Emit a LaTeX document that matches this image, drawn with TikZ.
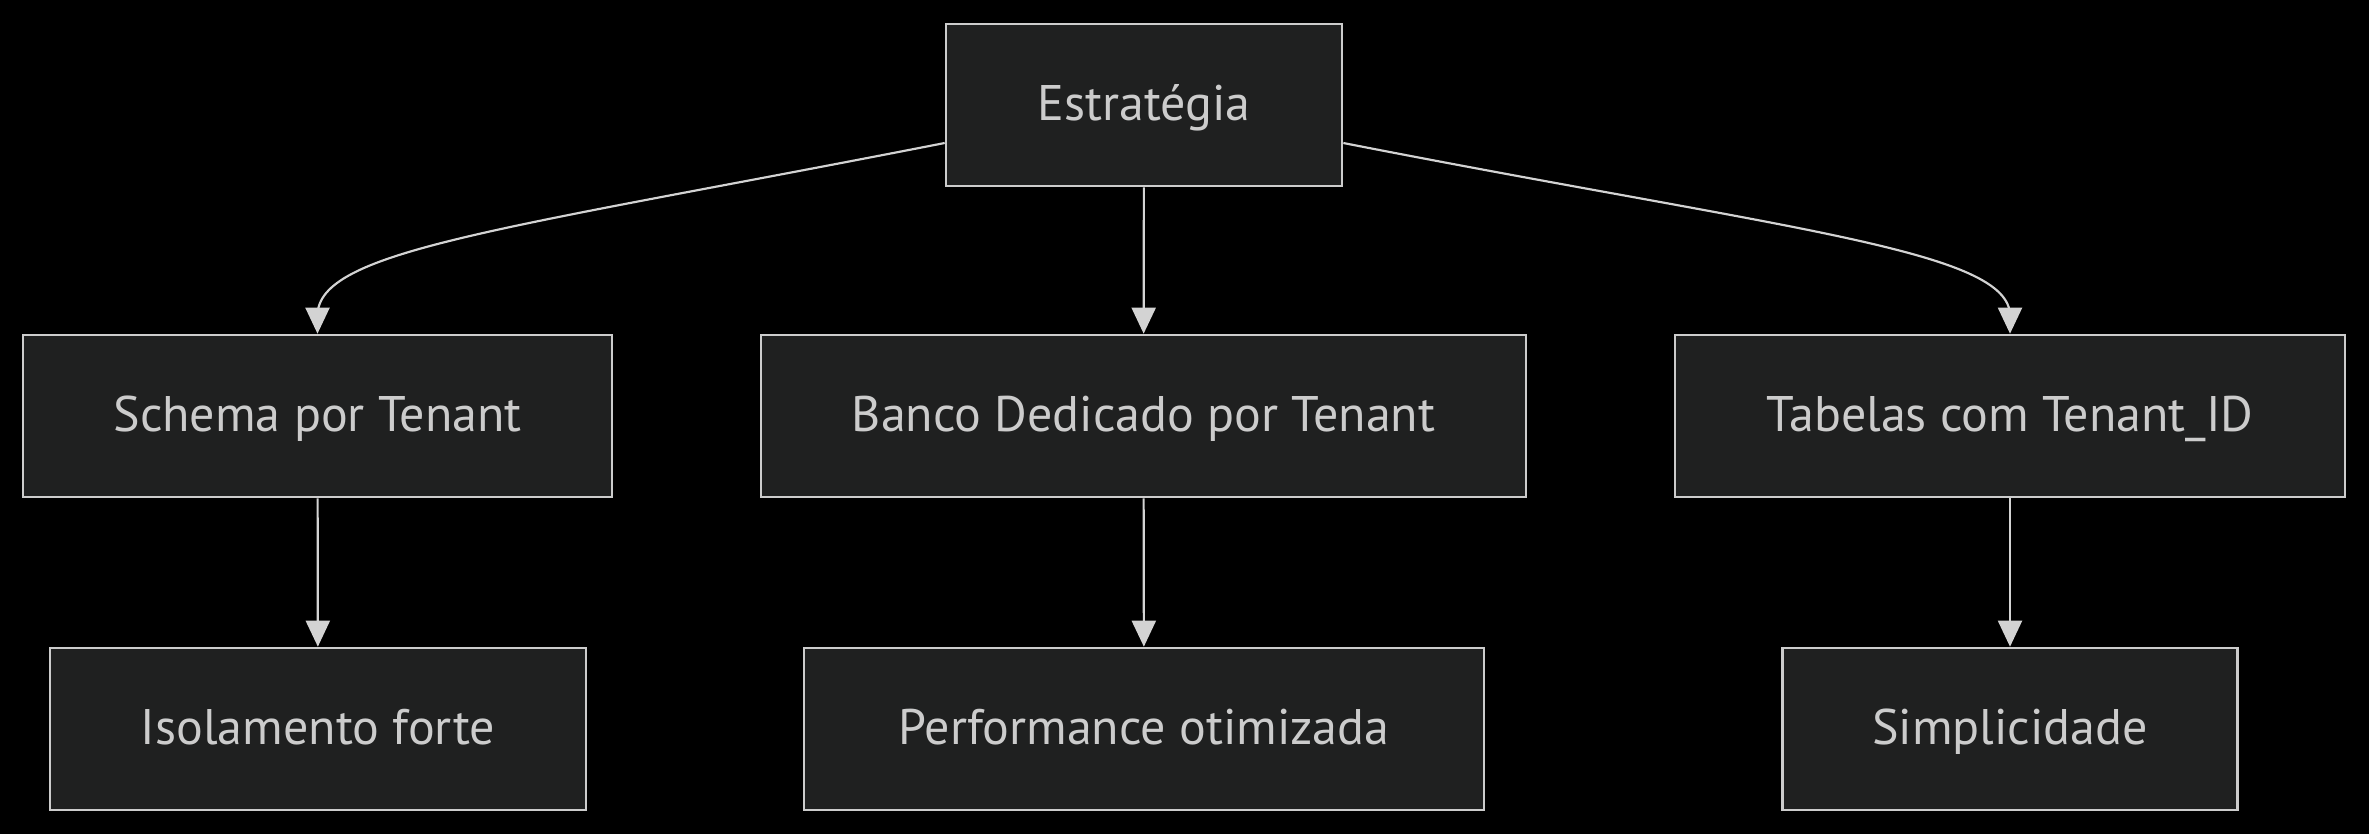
\documentclass[tikz,border=0pt]{standalone}
\usepackage{fontspec}
\setmainfont{PT Sans}
\usetikzlibrary{arrows.meta,calc}
\definecolor{nodefill}{HTML}{1F2020}
\definecolor{nodeline}{HTML}{CCCCCC}
\definecolor{txt}{HTML}{CCCCCC}
\definecolor{edge}{HTML}{D3D3D3}
\begin{document}
\begin{tikzpicture}[x=0.3pt,y=-0.3pt,
  box/.style={draw=nodeline,fill=nodefill,line width=0.8pt,text=txt,
    minimum height=48.6pt,inner sep=0pt,text height=11pt,text depth=2pt,
    font=\fontsize{15}{18}\selectfont},
  conn/.style={draw=edge,line width=0.65pt,-{Triangle[length=7.8pt,width=7.2pt]}}]
\fill[black] (0,0) rectangle (2369,834);
\useasboundingbox (0,0) rectangle (2369,834);
\node[box,minimum width=118.8pt] (E) at (1144,105) {Estratégia};
\node[box,minimum width=176.7pt] (S) at (317.5,416) {Schema por Tenant};
\node[box,minimum width=229.5pt] (B) at (1143.5,416) {Banco Dedicado por Tenant};
\node[box,minimum width=201pt] (T) at (2010,416) {Tabelas com Tenant\_ID};
\node[box,minimum width=160.8pt] (I) at (318,729) {Isolamento forte};
\node[box,minimum width=204pt] (P) at (1144,729) {Performance otimizada};
\node[box,minimum width=136.5pt] (M) at (2010,729) {Simplicidade};
\draw[conn] ($(E.west)+(0,38)$) .. controls (500,230) and (S.north|-0,250) .. ($(S.north)+(0,-18)$) -- (S.north);
\draw[conn] ($(E.east)+(0,38)$) .. controls (1788,230) and (T.north|-0,250) .. ($(T.north)+(0,-18)$) -- (T.north);
\draw[conn] (E) -- (B);
\draw[conn] (S) -- (I);
\draw[conn] (B) -- (P);
\draw[conn] (T) -- (M);
\end{tikzpicture}
\end{document}
